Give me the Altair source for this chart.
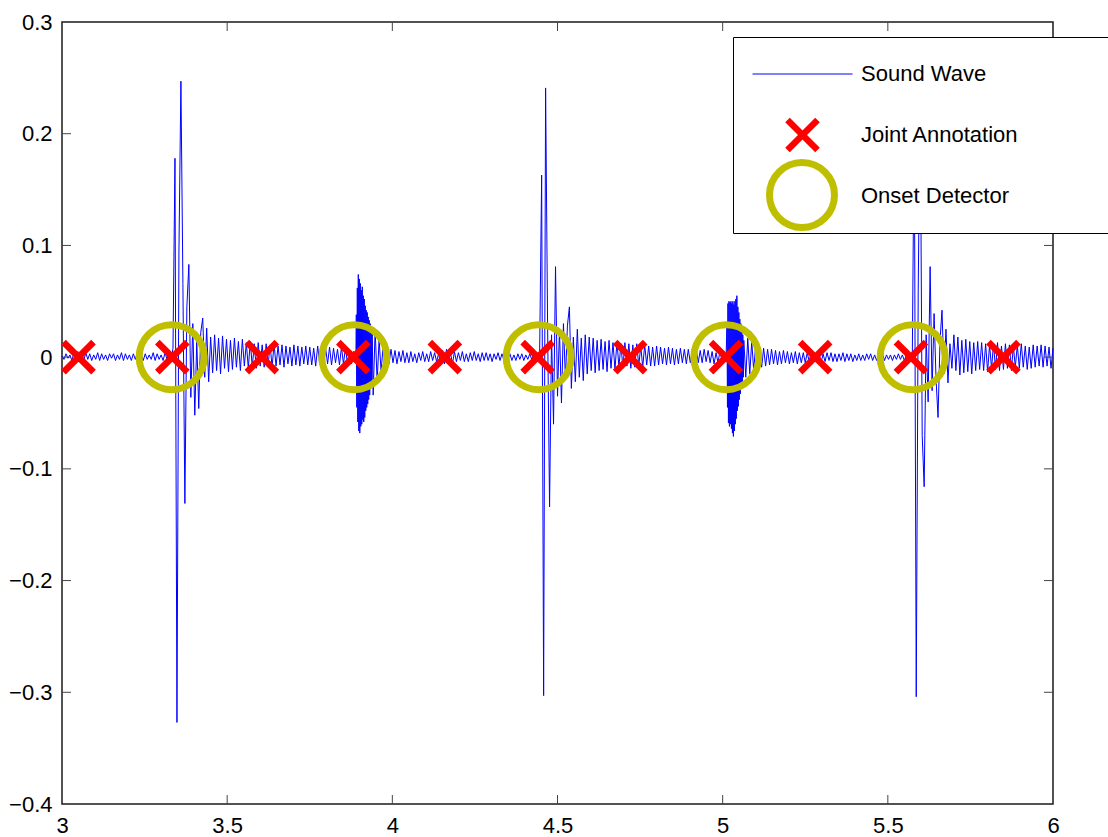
import altair as alt
import pandas as pd

FONT = "Liberation Sans"

# ---------------- data ----------------
# Sound wave samples (thousandths), regular sampling grid starting at 3.0 s
wave_start = 3.0
wave_step = 0.006
seg_a = [1, -2, 3, -1, 2, -3, 4, -2, 5, -4,
         3, -3, 4, -2, 3, -3, 2, -2, 4, -3,
         3, -2, 2, -3, 3, -1, 3, -3, 2, -2,
         4, -3, 3, -2, 2, -3, 3, -2, 4, -1,
         2, -3, 3, -2, 2, -2, 4, -3, 3, -2,
         2, -3, 4, -2, 5]
seg_onset1 = [-4, 8, 178, -327, 95, 247, 66, -131, 45, 83,
              -36, 30, -52, 14, -46, 22, 35, -18, 26, -22]
seg_b = [18, -14, 20, -12, 17, -15, 19, -10, 16, -13,
         15, -11, 17, -9, 14, -12, 16, -8, 13, -10,
         14, -9, 12, -10, 13, -8, 11, -9, 12, -7,
         11, -9, 12, -8, 10, -7, 11, -9, 10, -6,
         9, -8, 11, -7, 10, -8, 9, -6, 10, -7,
         9, -7, 8, -8, 10, -6, 9, -7, 8, -6,
         9, -7, 8, -5, 7, -7, 9, -6, 8, -5,
         7, -6, 5]
seg_onset2 = [50, -60, 70, -66, 58, -55, 48, -47, 36, -34, 25, -22, 16, -13, 10]
seg_c = [-8, 7, -6, 7, -5, 6, -6, 5, -4, 6,
         -5, 4, -5, 5, -4, 3, -5, 4, -3, 5,
         -4, 3, -4, 5, -3, 4, -4, 3, -5, 6,
         -6, 7, -5, 4, -6, 5, -4, 4, -3, 5,
         -4, 3, -4, 4, -3, 5, -3, 3, -4, 4,
         -3, 4, -3, 3, -4, 3, -2, 4, -3, 3,
         -3, 4, -2, 3, -3, 2, -3, 3, -2, 3,
         -3, 2, -2, 3, -2, 3, -3, 2]
seg_onset3 = [5, 163, -303, 241, 30, -134, 20, -60, 81, -35,
              25, -41, 30, -20, 28, 45, -28]
seg_d = [18, -22, 25, -18, 17, -21, 20, -15, 18, -12,
         17, -14, 15, -12, 16, -11, 14, -13, 15, -10,
         13, -11, 14, -9, 12, -10, 13, -8, 12, -10,
         11, -9, 12, -8, 10, -9, 11, -7, 10, -8,
         9, -8, 10, -7, 9, -6, 8, -7, 9, -6,
         8, -7, 7, -6, 8, -5, 7, -6, 7, -5,
         6, -6, 7, -5, 6, -5, 7, -4, 6, -5,
         5, -6, 4, -5, 6, -4, 5, -3]
seg_onset4 = [48, -64, 50, -71, 50, -60, 55, -45, 30]
seg_e = [-18, 17, -15, 14, -12, 11, -10, 9, -9, 8,
         -8, 7, -7, 7, -6, 6, -7, 5, -6, 6,
         -5, 5, -6, 4, -5, 5, -6, 4, -5, 4,
         -5, 4, -4, 5, -5, 3, -4, 4, -5, 3,
         -4, 4, -3, 4, -4, 3, -4, 3, -3, 4,
         -4, 3, -3, 3, -4, 2, -3, 3, -3, 2,
         -3, 3, -2, 3, -3, 2, -3, 2, -2, 3,
         -3, 2, -2, 2, -3, 2, -2, 3, -2, 2,
         -3, 2, -2, 3]
seg_onset5 = [-3, 215, -304, 60, 240, -70, -116, 20, -40, 81,
              -30, 39, -20, -54, 15, 42, -15, 25, -23, 12,
              -10, 20]
seg_f = [-12, 18, -16, 15, -14, 16, -13, 14, -15, 13,
         -12, 14, -11, 13, -12, 12, -13, 11, -10, 12,
         -11, 13, -12, 10, -11, 12, -10, 11, -12, 10,
         -9, 11, -10, 12, -9, 10, -11, 9, -10, 11,
         -9, 10, -8, 11, -9, 10, -8, 9, -10, 8]
wave_mv = (seg_a + seg_onset1 + seg_b + seg_onset2 + seg_c + seg_onset3
           + seg_d + seg_onset4 + seg_e + seg_onset5 + seg_f)

# dense bursts (finer sampling) at the 2nd and 4th onsets
burst_step = 0.0015
burst2_start = 3.888
burst2_mv = [4, -5, 38, -45, 62, -58, 74, -66, 70, -68,
             66, -62, 60, -60, 63, -56, 55, -58, 52, -54,
             46, -48, 42, -45, 40, -42, 36, -38, 33, -34,
             30, -28, 26, -24, 22]
burst4_start = 5.013
burst4_mv = [30, -45, 48, -59, 50, -62, 49, -60, 50, -64,
             48, -68, 50, -71, 47, -66, 50, -60, 52, -55,
             55, -48, 45, -44, 40, -38, 34, -33, 30, -28,
             25, -22, 20, -18, 15]

joint_times = [3.050, 3.334, 3.605, 3.882, 4.159, 4.440, 4.720, 5.010, 5.280, 5.570, 5.850]
onset_times = [3.332, 3.885, 4.443, 5.011, 5.575]

x_label_values = [3, 3.5, 4, 4.5, 5, 5.5, 6]
y_label_values = [-0.4, -0.3, -0.2, -0.1, 0, 0.1, 0.2, 0.3]
x_tick_values = [3.5, 4, 4.5, 5, 5.5]
y_tick_values = [-0.3, -0.2, -0.1, 0, 0.1, 0.2]

series_names = ["Sound Wave", "Joint Annotation", "Onset Detector"]
# main legend: the onset symbol is left invisible there and drawn by its own legend
legend_colors = ["#0000ff", "#ff0000", "transparent"]
legend_shapes = ["M-1,0L1,0", "M-1,-1L1,1M-1,1L1,-1", "circle"]
legend_sizes = [10000, 900, 900]
legend_widths = [1, 6.5, 1]
onset_name = ["Onset Detector"]
onset_color = ["#bfbf00"]
onset_shape = ["circle"]
onset_size = [4225]
onset_width = [7]

# ---------------- tables ----------------
windows = [(burst2_start, burst2_start + (len(burst2_mv) - 1) * burst_step),
           (burst4_start, burst4_start + (len(burst4_mv) - 1) * burst_step)]
rows = []
for i, mv in enumerate(wave_mv):
    t = round(wave_start + i * wave_step, 6)
    if any(a - 1e-9 <= t <= b + 1e-9 for a, b in windows):
        continue
    rows.append((t, mv / 1000.0))
for start, vals in ((burst2_start, burst2_mv), (burst4_start, burst4_mv)):
    for k, mv in enumerate(vals):
        rows.append((round(start + k * burst_step, 6), mv / 1000.0))
wave = pd.DataFrame(rows, columns=["t", "v"]).sort_values("t").reset_index(drop=True)

joints = pd.DataFrame({"t": joint_times, "v": 0.0, "series": "Joint Annotation"})
onsets = pd.DataFrame({"t": onset_times, "v": 0.0, "series": "Onset Detector"})
xt = pd.DataFrame({"t": x_tick_values})
yt = pd.DataFrame({"v": y_tick_values})

# ---------------- chart ----------------
W, H = 991, 782
TICK = 9
xs = alt.Scale(domain=[3, 6], nice=False, zero=False)
ys = alt.Scale(domain=[-0.4, 0.3], nice=False, zero=False)
xa = alt.Axis(values=x_label_values, format="~g", ticks=False, domain=False, grid=False,
              labelFont=FONT, labelFontSize=22, labelColor="black", labelPadding=11,
              labelFlush=False, labelOverlap=False, title=None)
ya = alt.Axis(values=y_label_values, format=".1~f", ticks=False, domain=False, grid=False,
              labelFont=FONT, labelFontSize=22, labelColor="black", labelPadding=10,
              labelFlush=False, labelOverlap=False, title=None)

leg_main = alt.Legend(orient="none", legendX=671, legendY=15, padding=6.5,
                      strokeColor="black", fillColor="white", cornerRadius=0,
                      labelFont=FONT, labelFontSize=22, labelColor="black",
                      clipHeight=61, rowPadding=0, symbolOffset=12.5, labelOffset=8,
                      title="\u00a0", titleOrient="right", titlePadding=100,
                      titleFontSize=22, zindex=0)

leg_onset = alt.Legend(orient="none", legendX=704, legendY=137, padding=0,
                       symbolOffset=0, labelOffset=0, labelExpr="''",
                       labelFontSize=1, title=None, zindex=1)

line = alt.Chart(wave).mark_line(color="#0000ff", strokeWidth=1).encode(
    x=alt.X("t:Q", scale=xs, axis=xa),
    y=alt.Y("v:Q", scale=ys, axis=ya),
)

onset_layer = alt.Chart(onsets).mark_point(filled=False, opacity=1).encode(
    x=alt.X("t:Q", scale=xs, axis=xa),
    y=alt.Y("v:Q", scale=ys, axis=ya),
    color=alt.Color("series:N", scale=alt.Scale(domain=onset_name, range=onset_color), legend=leg_onset),
    shape=alt.Shape("series:N", scale=alt.Scale(domain=onset_name, range=onset_shape), legend=leg_onset),
    size=alt.Size("series:N", scale=alt.Scale(type="ordinal", domain=onset_name, range=onset_size), legend=leg_onset),
    strokeWidth=alt.StrokeWidth("series:N", scale=alt.Scale(type="ordinal", domain=onset_name, range=onset_width), legend=leg_onset),
)

joint_layer = alt.Chart(joints).mark_point(filled=False, opacity=1).encode(
    x=alt.X("t:Q", scale=xs, axis=xa),
    y=alt.Y("v:Q", scale=ys, axis=ya),
    color=alt.Color("series:N", scale=alt.Scale(domain=series_names, range=legend_colors), legend=leg_main),
    shape=alt.Shape("series:N", scale=alt.Scale(domain=series_names, range=legend_shapes), legend=leg_main),
    size=alt.Size("series:N", scale=alt.Scale(type="ordinal", domain=series_names, range=legend_sizes), legend=leg_main),
    strokeWidth=alt.StrokeWidth("series:N", scale=alt.Scale(type="ordinal", domain=series_names, range=legend_widths), legend=leg_main),
)

tick_color = "#444444"
left_ticks = alt.Chart(yt).mark_rule(color=tick_color, strokeWidth=1).encode(
    y=alt.Y("v:Q", scale=ys, axis=ya), x=alt.value(0), x2=alt.value(TICK))
right_ticks = alt.Chart(yt).mark_rule(color=tick_color, strokeWidth=1).encode(
    y=alt.Y("v:Q", scale=ys, axis=ya), x=alt.value(W - TICK), x2=alt.value(W))
top_ticks = alt.Chart(xt).mark_rule(color=tick_color, strokeWidth=1).encode(
    x=alt.X("t:Q", scale=xs, axis=xa), y=alt.value(0), y2=alt.value(TICK))
bottom_ticks = alt.Chart(xt).mark_rule(color=tick_color, strokeWidth=1).encode(
    x=alt.X("t:Q", scale=xs, axis=xa), y=alt.value(H - TICK), y2=alt.value(H))

chart = alt.layer(
    line, onset_layer, joint_layer, left_ticks, right_ticks, top_ticks, bottom_ticks
).resolve_scale(
    color="independent", shape="independent", size="independent", strokeWidth="independent"
).properties(
    width=W, height=H,
    autosize=alt.AutoSizeParams(type="none"),
    padding={"left": 62, "top": 22, "right": 55, "bottom": 33},
    background="white",
).configure_view(stroke="#1a1a1a", strokeWidth=1.5)

chart.save("out.html", embed_options={"renderer": "svg", "actions": False})
